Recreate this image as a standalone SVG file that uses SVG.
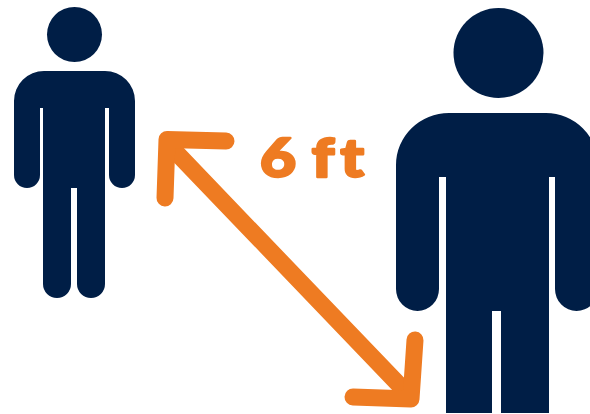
<svg xmlns="http://www.w3.org/2000/svg" width="590" height="414" viewBox="0 0 590 414">
<style>
.p{fill:#001e46}
.a{fill:none;stroke:#ee7b22;stroke-width:17;stroke-linecap:round;stroke-linejoin:round}
.t{fill:#ee7b22;stroke:#ee7b22;stroke-width:2.500px;stroke-linejoin:round;font-family:Lato,"Open Sans","Liberation Sans",sans-serif;font-weight:900;font-size:54px}
</style>
<rect width="590" height="414" fill="#fff"/>
<g id="person-small" class="p">
<circle cx="74.5" cy="34.5" r="27.5"/>
<path d="M44 71H105A30 30 0 0 1 135 101V175A13 13 0 0 1 109 175V108H105V284A14 14 0 0 1 77 284V188H71V284A14 14 0 0 1 43 284V108H40V175A13 13 0 0 1 14 175V101A30 30 0 0 1 44 71Z"/>
</g>
<g id="person-large" class="p">
<circle cx="498.5" cy="53" r="45"/>
<path d="M449 113H546A52 52 0 0 1 598 165V289A21.500 22 0 0 1 555 289V177H549V413H501V311H492V413H446V177H439V289A21.500 22 0 0 1 396 289V165A53 52 0 0 1 449 113Z"/>
</g>
<g id="connectors">
<path class="a" d="M170 146L405 391"/>
<path class="a" d="M226 141L167 139.500L165 198"/>
<path class="a" d="M353 397L411 399L415 340"/>
</g>
<g id="label">
<text class="t" transform="translate(260 177) scale(1.15 1)" x="0 33 45 70" y="0">6 ft</text>
</g>
</svg>
